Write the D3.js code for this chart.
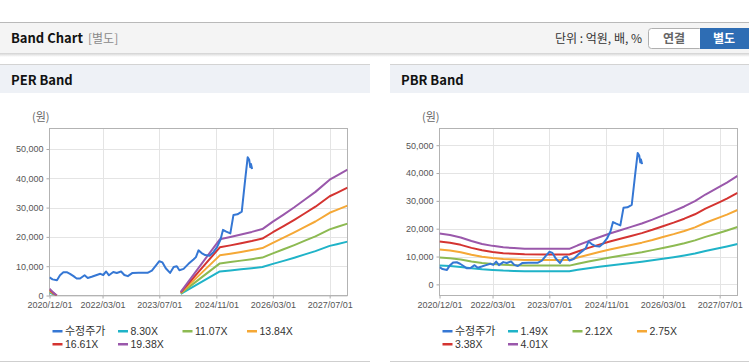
<!DOCTYPE html>
<html>
<head>
<meta charset="utf-8">
<script src="https://cdn.jsdelivr.net/npm/d3@7"></script>
<style>
    body { margin: 0; background: #fff; }
    svg { display: block; font-family: "Liberation Sans", Arial, "Noto Sans CJK KR", sans-serif; }
    .kr { font-family: "Noto Sans CJK KR", "Noto Sans", sans-serif; }
</style>
</head>
<body>
<svg id="chart" width="749" height="364"></svg>
<script>
// x tick dates shown under both charts
const tickDates = ["2020-12-01", "2022-03-01", "2023-07-01", "2024-11-01", "2026-03-01", "2027-07-01"];

// 수정주가 (adjusted price)
const priceDates = [
    "2020-12-01", "2020-12-27", "2021-02-03", "2021-03-01", "2021-03-30", "2021-04-28", "2021-05-26",
    "2021-06-25", "2021-07-22", "2021-08-20", "2021-09-28", "2021-10-25", "2021-11-28", "2022-01-04",
    "2022-02-10", "2022-03-07", "2022-04-01", "2022-04-25", "2022-06-01", "2022-07-01", "2022-08-07",
    "2022-09-04", "2022-10-04", "2022-11-13", "2023-01-04", "2023-03-22", "2023-04-28", "2023-06-01",
    "2023-07-01", "2023-07-28", "2023-08-25", "2023-10-01", "2023-11-01", "2023-11-28", "2023-12-20",
    "2024-01-25", "2024-03-07", "2024-04-19", "2024-05-10", "2024-06-01", "2024-06-28", "2024-07-28",
    "2024-09-04", "2024-10-07", "2024-11-07", "2024-12-07", "2024-12-28", "2025-01-25", "2025-03-01",
    "2025-03-28", "2025-05-01", "2025-06-07", "2025-07-07", "2025-07-28", "2025-08-10", "2025-08-19",
    "2025-08-25", "2025-09-04"
];
const priceValues = [
    6200, 5500, 5200, 6900, 7900, 7950, 7400,
    6600, 5800, 5800, 6900, 6000, 6400, 6900,
    7400, 7000, 8200, 6900, 8000, 7700, 8200,
    7000, 6600, 7700, 7750, 7750, 8500, 10200,
    11700, 11300, 9300, 7700, 9700, 10000, 8600,
    9100, 10800, 12300, 13100, 15400, 14500, 13800,
    13600, 14800, 16500, 19100, 22400, 21800, 21200,
    27500, 27700, 28600, 39800, 47200, 46300, 43800,
    44900, 43200
];

// PER band: EPS base (null = negative, not drawn) and the multiples
const epsDates = [
    "2020-12-01", "2021-01-01", "2021-02-01", "2021-03-01",
    "2024-01-01", "2024-12-01", "2025-03-01", "2025-06-01", "2025-09-01", "2025-12-01",
    "2026-03-01", "2026-06-01", "2026-09-01", "2026-12-01", "2027-03-01", "2027-07-01",
    "2027-09-01", "2027-12-01"
];
const epsValues = [
    120, 55, 0, null,
    65, 990, 1030, 1075, 1120, 1170,
    1300, 1425, 1555, 1690, 1825, 2040,
    2110, 2215
];
const perMultiples = [8.30, 11.07, 13.84, 16.61, 19.38];

// PBR band: BPS base and the multiples
const bpsDates = [
    "2020-12-01", "2021-03-01", "2021-06-01", "2021-09-01", "2021-12-01", "2022-03-01", "2022-06-01",
    "2022-09-01", "2022-12-01", "2023-06-01", "2023-12-20", "2024-03-01", "2024-06-01", "2024-09-01",
    "2024-12-01", "2025-03-01", "2025-06-01", "2025-09-01", "2025-12-01", "2026-03-01", "2026-06-01",
    "2026-09-01", "2026-12-01", "2027-03-01", "2027-07-01", "2027-09-01", "2027-12-01"
];
const bpsValues = [
    4560, 4420, 4200, 3880, 3620, 3450, 3320,
    3250, 3190, 3180, 3180, 3500, 3880, 4220,
    4560, 4850, 5150, 5450, 5800, 6180, 6560,
    6980, 7450, 8050, 8750, 9120, 9720
];
const pbrMultiples = [1.49, 2.12, 2.75, 3.38, 4.01];

const yTicks = [0, 10000, 20000, 30000, 40000, 50000];
const priceColor = "#3577d4";
const bandColors = ["#1fb3c8", "#8dba52", "#f5a836", "#d43431", "#9a58ab"];

const parse = d3.timeParse("%Y-%m-%d");
const fmtTick = d3.timeFormat("%Y/%m/%d");
const svg = d3.select("#chart");

// ---- top header ----
svg.append("rect").attr("x", 0).attr("y", 22).attr("width", 749).attr("height", 1).attr("fill", "#b9b9b9");
svg.append("rect").attr("x", 0).attr("y", 23).attr("width", 749).attr("height", 30).attr("fill", "#f4f4f4");
const shadow = svg.append("defs").append("linearGradient")
    .attr("id", "shadow").attr("x1", 0).attr("x2", 0).attr("y1", 0).attr("y2", 1);
shadow.append("stop").attr("offset", "0%").attr("stop-color", "rgba(0,0,0,0.18)");
shadow.append("stop").attr("offset", "100%").attr("stop-color", "rgba(0,0,0,0)");
svg.append("rect").attr("x", 0).attr("y", 53).attr("width", 749).attr("height", 4).attr("fill", "url(#shadow)");

svg.append("text").attr("class", "kr").attr("x", 11).attr("y", 43)
    .style("font-size", "13px").style("font-weight", "bold").attr("fill", "#111").text("Band Chart");
svg.append("text").attr("class", "kr").attr("x", 88).attr("y", 43)
    .style("font-size", "12px").attr("fill", "#8a8a8a").text("[별도]");
svg.append("text").attr("class", "kr").attr("x", 642).attr("y", 43).attr("text-anchor", "end")
    .style("font-size", "12px").attr("fill", "#333").text("단위 : 억원, 배, %");

svg.append("rect").attr("x", 648.5).attr("y", 28.5).attr("width", 54).attr("height", 20).attr("rx", 3)
    .attr("fill", "#fff").attr("stroke", "#b0b0b0");
svg.append("rect").attr("x", 700).attr("y", 28).attr("width", 52).attr("height", 21).attr("fill", "#2e6db4");
svg.append("text").attr("class", "kr").attr("x", 674).attr("y", 43).attr("text-anchor", "middle")
    .style("font-size", "12px").style("font-weight", "bold").attr("fill", "#666").text("연결");
svg.append("text").attr("class", "kr").attr("x", 724).attr("y", 43).attr("text-anchor", "middle")
    .style("font-size", "12px").style("font-weight", "bold").attr("fill", "#fff").text("별도");

function drawPanel(ox, width, title, baseDates, baseValues, multiples, yDomain, clipId) {
    const g = svg.append("g").attr("transform", `translate(${ox},0)`);

    g.append("rect").attr("x", 0).attr("y", 64).attr("width", width).attr("height", 1).attr("fill", "#d3d3d3");
    g.append("rect").attr("x", 0).attr("y", 65).attr("width", width).attr("height", 28).attr("fill", "#eef1f6");
    g.append("text").attr("class", "kr").attr("x", 11).attr("y", 85)
        .style("font-size", "13px").style("font-weight", "bold").attr("fill", "#111").text(title);
    g.append("rect").attr("x", 0).attr("y", 361).attr("width", width).attr("height", 1).attr("fill", "#cfcfcf");

    const left = 49.5, right = 347.5, top = 128.5, bottom = 295.5;
    const x = d3.scaleTime()
        .domain([parse("2020-12-01"), parse("2027-12-01")])
        .range([left, right]);
    const y = d3.scaleLinear().domain(yDomain).range([bottom, top]);

    // grid
    g.append("g").selectAll("line").data(yTicks).join("line")
        .attr("x1", left).attr("x2", right)
        .attr("y1", d => Math.round(y(d)) + 0.5).attr("y2", d => Math.round(y(d)) + 0.5)
        .attr("stroke", "#e4e4e4");
    g.append("g").selectAll("line").data(tickDates.slice(1)).join("line")
        .attr("x1", d => Math.round(x(parse(d))) + 0.5).attr("x2", d => Math.round(x(parse(d))) + 0.5)
        .attr("y1", top).attr("y2", bottom)
        .attr("stroke", "#e4e4e4");

    // axes
    const yAxis = g.append("g").attr("transform", `translate(${left},0)`)
        .call(d3.axisLeft(y).tickValues(yTicks).tickSize(3).tickPadding(3).tickFormat(d3.format(",")));
    const xAxis = g.append("g").attr("transform", `translate(0,${bottom})`)
        .call(d3.axisBottom(x).tickValues(tickDates.map(parse)).tickSize(3).tickPadding(3).tickFormat(fmtTick));
    [yAxis, xAxis].forEach(a => {
        a.select(".domain").remove();
        a.selectAll("line").attr("stroke", "#aaa");
        a.selectAll("text").attr("fill", "#555").style("font-size", "9px")
            .style("font-family", "'Liberation Sans', Arial, sans-serif");
    });

    // frame
    g.append("rect").attr("x", left).attr("y", top).attr("width", right - left).attr("height", bottom - top)
        .attr("fill", "none").attr("stroke", "#b3b3b3");

    g.append("text").attr("class", "kr").attr("x", 32).attr("y", 121)
        .style("font-size", "11px").attr("fill", "#666").text("(원)");

    g.append("clipPath").attr("id", clipId).append("rect")
        .attr("x", left).attr("y", top).attr("width", right - left).attr("height", bottom - top);
    const plot = g.append("g").attr("clip-path", `url(#${clipId})`);

    const line = d3.line()
        .defined(d => d.v != null)
        .x(d => x(d.date))
        .y(d => y(d.v));

    multiples.forEach((m, i) => {
        const data = baseDates.map((d, j) => ({
            date: parse(d),
            v: baseValues[j] == null ? null : baseValues[j] * m
        }));
        plot.append("path").datum(data).attr("d", line)
            .attr("fill", "none").attr("stroke", bandColors[i]).attr("stroke-width", 2)
            .attr("stroke-linejoin", "round");
    });

    const priceData = priceDates.map((d, j) => ({ date: parse(d), v: priceValues[j] }));
    plot.append("path").datum(priceData).attr("d", line)
        .attr("fill", "none").attr("stroke", priceColor).attr("stroke-width", 2)
        .attr("stroke-linejoin", "round");

    // legend
    const items = [{ label: "수정주가", color: priceColor }]
        .concat(multiples.map((m, i) => ({ label: m.toFixed(2) + "X", color: bandColors[i] })));
    const colX = [52.5, 118, 182.5, 247];
    items.forEach((it, i) => {
        const lx = colX[i % 4];
        const ly = i < 4 ? 331 : 344;
        g.append("rect").attr("x", lx).attr("y", ly - 1).attr("width", 10).attr("height", 2.5).attr("fill", it.color);
        g.append("text").attr("x", lx + 12.5).attr("y", ly + 4)
            .attr("class", i === 0 ? "kr" : null)
            .style("font-size", i === 0 ? "11px" : "10.5px").attr("fill", "#333").text(it.label);
    });
}

drawPanel(0, 370, "PER Band", epsDates, epsValues, perMultiples, [0, 57000], "clip-per");
drawPanel(390, 359, "PBR Band", bpsDates, bpsValues, pbrMultiples, [-4000, 56000], "clip-pbr");
</script>
</body>
</html>
